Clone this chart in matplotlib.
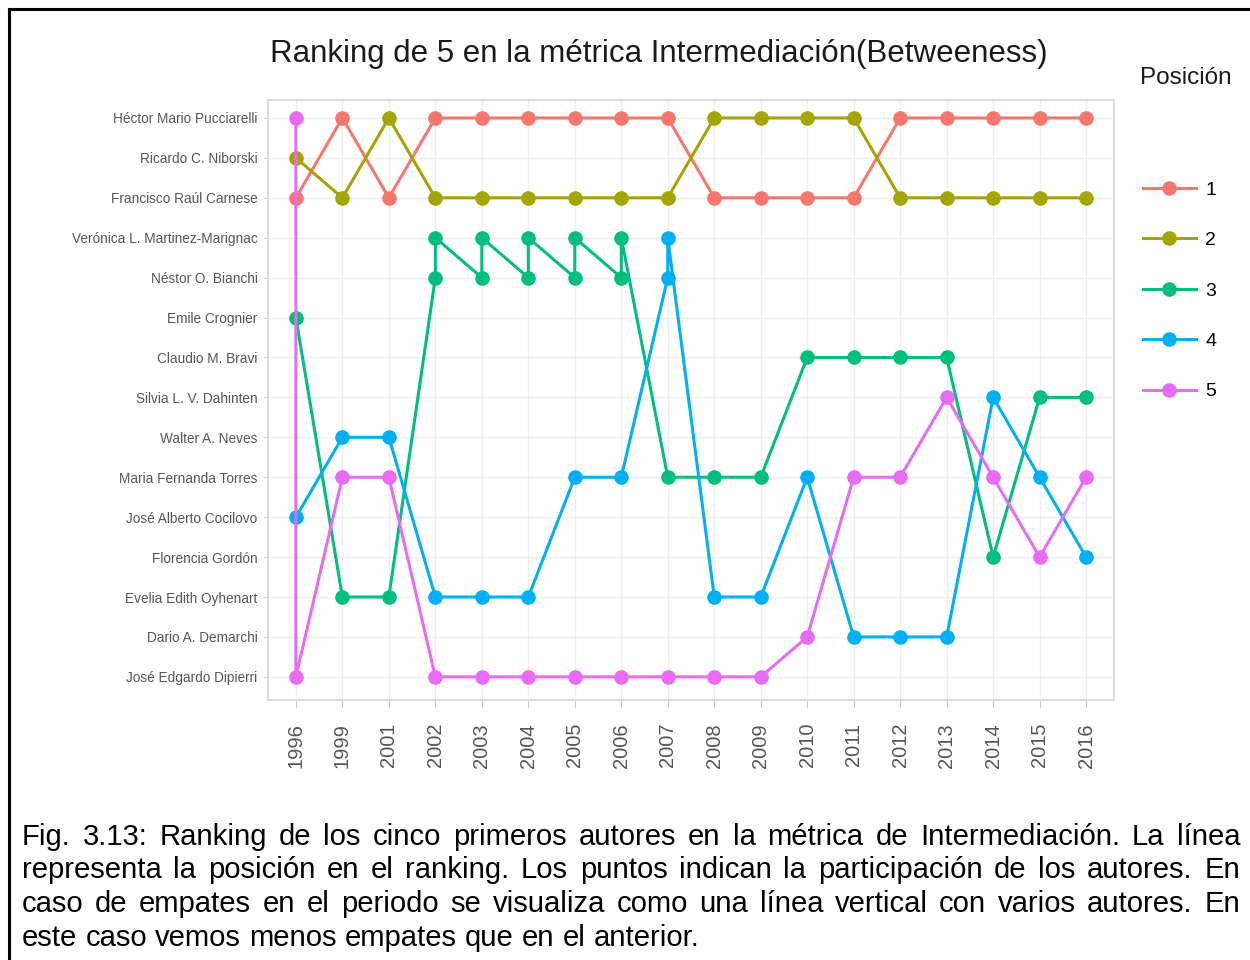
'''
Ranking de 5 en la metrica Intermediacion (Betweeness).
Bump chart of the five top authors per period, saved as out.png
'''

import matplotlib
matplotlib.use( 'Agg' )
import matplotlib.pyplot as plt
from matplotlib.lines import Line2D

plt.rcParams['font.family'] = ['Liberation Sans', 'DejaVu Sans']

# periods (categorical x axis)
years = [ '1996', '1999', '2001', '2002', '2003', '2004', '2005', '2006', '2007',
          '2008', '2009', '2010', '2011', '2012', '2013', '2014', '2015', '2016' ]

# authors, top to bottom on the y axis
authors = [ 'Héctor Mario Pucciarelli', 'Ricardo C. Niborski', 'Francisco Raúl Carnese',
            'Verónica L. Martinez-Marignac', 'Néstor O. Bianchi', 'Emile Crognier',
            'Claudio M. Bravi', 'Silvia L. V. Dahinten', 'Walter A. Neves',
            'Maria Fernanda Torres', 'José Alberto Cocilovo', 'Florencia Gordón',
            'Evelia Edith Oyhenart', 'Dario A. Demarchi', 'José Edgardo Dipierri' ]
HP, RN, FC, VM, NB, EC, CB, SD, WN, MT, JC, FG, EO, DD, JD = authors

# author holding each position per period (lists = ties, in drawing order)
pos1 = [ FC, HP, FC, HP, HP, HP, HP, HP, HP, FC, FC, FC, FC, HP, HP, HP, HP, HP ]
pos2 = [ RN, FC, HP, FC, FC, FC, FC, FC, FC, HP, HP, HP, HP, FC, FC, FC, FC, FC ]
pos3 = [ EC, EO, EO, [NB, VM], [NB, VM], [NB, VM], [NB, VM], [NB, VM], MT,
         MT, MT, CB, CB, CB, CB, FG, SD, SD ]
pos4 = [ JC, WN, WN, EO, EO, EO, MT, MT, [NB, VM],
         EO, EO, MT, DD, DD, DD, SD, MT, FG ]
pos5 = [ [HP, JD], MT, MT, JD, JD, JD, JD, JD, JD,
         JD, JD, DD, MT, MT, SD, MT, FG, MT ]

positions = [ '1', '2', '3', '4', '5' ]
series = [ pos1, pos2, pos3, pos4, pos5 ]
colors = [ '#F8766D', '#A3A500', '#00BF7D', '#00B0F6', '#E76BF3' ]

caption = [ 'Fig. 3.13: Ranking de los cinco primeros autores en la métrica de Intermediación. La línea',
            'representa la posición en el ranking. Los puntos indican la participación de los autores. En',
            'caso de empates en el periodo se visualiza como una línea vertical con varios autores. En',
            'este caso vemos menos empates que en el anterior.' ]

W, H = 1250, 960

def px( x, y ):
    ''' pixel position (from top left) -> figure fraction '''
    return x / W, 1 - y / H

def path( pos ):
    ''' expand one series into x, y index lists '''
    xs, ys = [], []
    for i, who in enumerate( pos ):
        if not isinstance( who, list ): who = [who]
        for a in who:
            xs.append( i )
            ys.append( authors.index( a ) )
    return xs, ys

fig = plt.figure( figsize = ( W / 100, H / 100 ), dpi = 100 )
ax = fig.add_axes( [ 268 / W, 1 - 700 / H, ( 1114 - 268 ) / W, 600 / H ] )

# lines + points, one series at a time
for pos, c in zip( series, colors ):
    xs, ys = path( pos )
    ax.plot( xs, ys, color = c, lw = 2.2, marker = 'o', ms = 9.5, solid_joinstyle = 'round' )

ax.set_xlim( -0.6, len( years ) - 0.4 )
ax.set_ylim( len( authors ) - 0.42, -0.45 )
ax.set_xticks( range( len( years ) ) )
ax.set_xticklabels( years, rotation = 90, fontsize = 14.5, color = '#555555' )
ax.set_yticks( range( len( authors ) ) )
ax.set_yticklabels( authors, fontsize = 9.8, color = '#555555' )
ax.tick_params( axis = 'x', length = 5.5, width = 0.8, color = '#CCCCCC', pad = 11 )
ax.tick_params( axis = 'y', length = 3, width = 0.8, color = '#CCCCCC', pad = 4.5 )
ax.grid( True, color = '#EEEEEE', lw = 0.9 )
ax.set_axisbelow( True )
for s in ax.spines.values():
    s.set_color( '#D9D9D9' )
    s.set_linewidth( 1.3 )

# title, left aligned with the panel
fig.text( *px( 270, 62 ), 'Ranking de 5 en la métrica Intermediación(Betweeness)',
          fontsize = 22.5, color = '#1A1A1A', ha = 'left', va = 'baseline' )

# legend
handles = [ Line2D( [], [], color = c, lw = 2.2, marker = 'o', ms = 9.5 ) for c in colors ]
fig.text( *px( 1140, 84 ), 'Posición', fontsize = 17.5, color = '#1A1A1A', ha = 'left', va = 'baseline' )
fig.legend( handles, positions, loc = 'upper left', bbox_to_anchor = px( 1143, 181 ),
            frameon = False, fontsize = 14, borderpad = 0, borderaxespad = 0,
            handlelength = 2.7, handletextpad = 0.5, labelspacing = 1.69, numpoints = 1 )

# figure frame (top and left edge)
fig.add_artist( Line2D( [ 8.5 / W, 1 ], [ 1 - 8.5 / H ] * 2, transform = fig.transFigure, color = 'black', lw = 2.2 ) )
fig.add_artist( Line2D( [ 8.5 / W ] * 2, [ 0, 1 - 8.5 / H ], transform = fig.transFigure, color = 'black', lw = 2.2 ) )

# caption, justified between x0 and x1
renderer = fig.canvas.get_renderer()
x0, x1 = 22, 1240
fs = 21.1
for k, line in enumerate( caption ):
    ybase = 845 + k * 33.5
    words = line.split()
    texts = [ fig.text( 0, 0, w, fontsize = fs, color = 'black', va = 'baseline' ) for w in words ]
    widths = [ t.get_window_extent( renderer ).width for t in texts ]
    if k < len( caption ) - 1:
        gap = ( x1 - x0 - sum( widths ) ) / ( len( words ) - 1 )
    else:
        gap = fs * 100 / 72 * 0.278
    x = x0
    for t, w in zip( texts, widths ):
        t.set_position( px( x, ybase ) )
        x += w + gap

fig.savefig( 'out.png', dpi = 100 )
